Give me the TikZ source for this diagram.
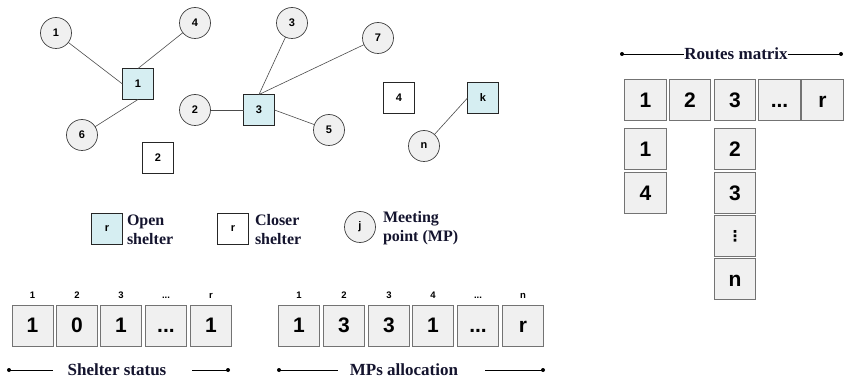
\documentclass[tikz,border=0pt]{standalone}
\usepackage{fontspec}
\setmainfont{Liberation Serif}
\setsansfont{Liberation Sans}
\newfontfamily\symfont{DejaVu Sans}
\definecolor{shelterblue}{HTML}{D6EEF2}
\definecolor{cellgray}{HTML}{F0F0F0}
\definecolor{captext}{HTML}{14142E}

\begin{document}
\begin{tikzpicture}[x=1pt, y=-1pt]
\tikzset{ inner sep=0pt, outer sep=0pt,
  mp/.style={circle, draw=black!75, line width=0.7pt, fill=cellgray, minimum size=31pt,
    font=\sffamily\bfseries\fontsize{11}{12}\selectfont},
  shelter/.style={rectangle, draw=black!85, line width=1.1pt, fill=shelterblue, minimum size=31pt,
    font=\sffamily\bfseries\fontsize{11}{12}\selectfont},
  closed/.style={shelter, fill=white},
  link/.style={black!70, line width=0.6pt},
  cell/.style={rectangle, draw=black!55, line width=0.9pt, fill=cellgray, minimum size=41pt,
    text height=15pt, text depth=0pt, font=\sffamily\bfseries\fontsize{21}{24}\selectfont},
  rcell/.style={cell, minimum size=41.5pt},
  dotcell/.style={rcell, text height=11pt, font=\symfont\bfseries\fontsize{15}{15}\selectfont},
  idx/.style={text height=7pt, text depth=0pt, font=\sffamily\bfseries\fontsize{9.5}{10}\selectfont},
  caption/.style={font=\bfseries\fontsize{17}{19}\selectfont, text=captext},
  legend/.style={anchor=west, align=left, text=captext, font=\bfseries\fontsize{16}{19}\selectfont},
  capline/.style={black, line width=0.7pt},
}

\useasboundingbox (0,0) rectangle (844,382);

% meeting points and shelters
\node [mp] (m1) at (56,33) {1};
\node [mp] (m4) at (195,23) {4};
\node [mp] (m6) at (82,135) {6};
\node [mp] (m2) at (195,110) {2};
\node [mp] (m3) at (292,23) {3};
\node [mp] (m7) at (378,38) {7};
\node [mp] (m5) at (329,130) {5};
\node [mp] (mn) at (424,146) {n};

\node [shelter] (s1) at (138,84) {1};
\node [shelter] (s3) at (259,110) {3};
\node [closed]  (s2) at (158,158) {2};
\node [closed]  (s4) at (399,98) {4};
\node [shelter] (sk) at (483,98) {k};

\draw [link] (m1) -- (s1.west);
\draw [link] (m4) -- (s1.north);
\draw [link] (m6) -- (s1.south);
\draw [link] (m3) -- (s3.north);
\draw [link] (m7) -- (s3.north);
\draw [link] (m2) -- (s3.west);
\draw [link] (m5) -- (s3.east);
\draw [link] (mn) -- (sk.west);

% legend
\node [shelter] (lgo) at (107,229) {r};
\node [legend] (lgot) at (127,230) {Open\\shelter};
\node [closed] (lgc) at (233,229) {r};
\node [legend] (lgct) at (255,230) {Closer\\shelter};
\node [mp] (lgm) at (360,227) {j};
\node [legend] (lgmt) at (383,228) {Meeting\\point (MP)};

% shelter status
\node [idx] (ssi1) at (32.5,295) {1};
\node [idx] (ssi2) at (77,295) {2};
\node [idx] (ssi3) at (121,295) {3};
\node [idx] (ssi4) at (166,295) {...};
\node [idx] (ssi5) at (211,295) {r};
\node [cell] (ss1) at (32.5,325.5) {1};
\node [cell] (ss2) at (77,325.5) {0};
\node [cell] (ss3) at (121,325.5) {1};
\node [cell] (ss4) at (166,325.5) {...};
\node [cell] (ss5) at (211,325.5) {1};

\coordinate (ssL) at (9,370);
\coordinate (ssLe) at (53,370);
\coordinate (ssRs) at (192,370);
\coordinate (ssR) at (228,370);
\node [caption] (sst) at (117,370) {Shelter status};
\draw [capline] (ssL) -- (ssLe);
\draw [capline] (ssRs) -- (ssR);
\fill (ssL) circle (2);
\fill (ssR) circle (2);

% MPs allocation
\node [idx] (mai1) at (299,295) {1};
\node [idx] (mai2) at (344,295) {2};
\node [idx] (mai3) at (389,295) {3};
\node [idx] (mai4) at (433,295) {4};
\node [idx] (mai5) at (478,295) {...};
\node [idx] (mai6) at (523,295) {n};
\node [cell] (ma1) at (299,325.5) {1};
\node [cell] (ma2) at (344,325.5) {3};
\node [cell] (ma3) at (389,325.5) {3};
\node [cell] (ma4) at (433,325.5) {1};
\node [cell] (ma5) at (478,325.5) {...};
\node [cell] (ma6) at (523,325.5) {r};

\coordinate (maL) at (279,370);
\coordinate (maLe) at (338,370);
\coordinate (maRs) at (485,370);
\coordinate (maR) at (543,370);
\node [caption] (mat) at (404,370) {MPs allocation};
\draw [capline] (maL) -- (maLe);
\draw [capline] (maRs) -- (maR);
\fill (maL) circle (2);
\fill (maR) circle (2);

% routes matrix
\coordinate (rmL) at (622,54);
\coordinate (rmR) at (841,54);
\node [caption] (rmt) at (736,54) {Routes matrix};
\draw [capline] (rmL) -- (rmt.west);
\draw [capline] (rmt.east) -- (rmR);
\fill (rmL) circle (2);
\fill (rmR) circle (2);

\node [rcell] (rm1) at (645.5,100) {1};
\node [rcell] (rm2) at (690,100) {2};
\node [rcell] (rm3) at (735,100) {3};
\node [rcell] (rm4) at (779.5,100) {...};
\node [rcell] (rm5) at (822.5,100) {r};

\node [rcell] (rc11) at (645.5,149) {1};
\node [rcell] (rc12) at (645.5,193) {4};
\node [rcell] (rc31) at (735,149) {2};
\node [rcell] (rc32) at (735,193) {3};
\node [dotcell] (rc33) at (735,236) {⋮};
\node [rcell] (rc34) at (735,279) {n};

\end{tikzpicture}
\end{document}
